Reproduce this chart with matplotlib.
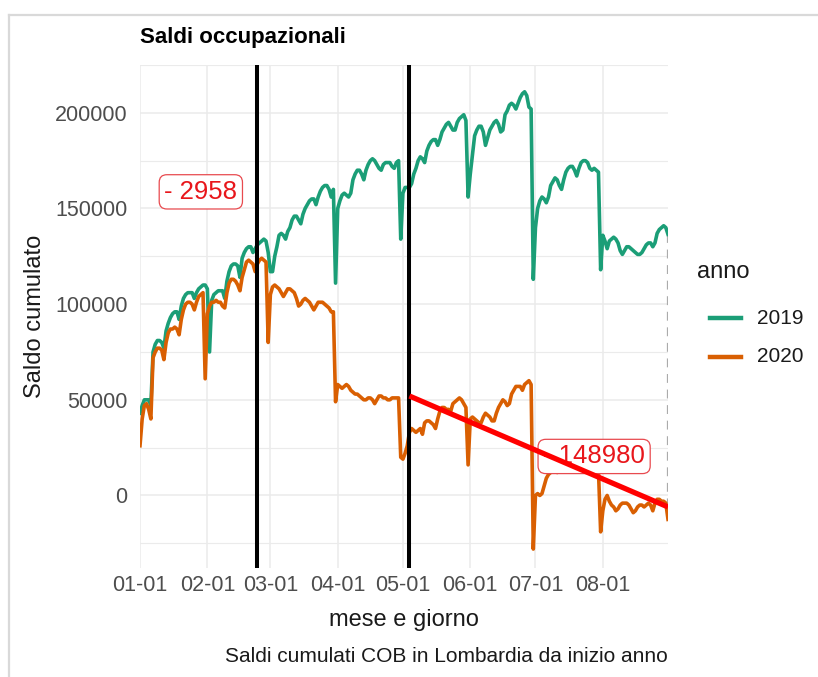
import numpy as np
import pandas as pd
import matplotlib
matplotlib.use("Agg")
import matplotlib.pyplot as plt
import matplotlib.dates as mdates
from matplotlib.lines import Line2D

plt.rcParams['font.family'] = ['Liberation Sans', 'DejaVu Sans']

# daily cumulative balance (thousands), Jan 1 -> Aug 31
saldo_2019 = [
    # jan
    43, 47, 50, 50, 50, 47, 75, 79, 81, 81, 80, 77, 86, 90, 93, 95, 96, 96, 92, 99,
    103, 105, 106, 106, 106, 103, 106, 108, 109, 110, 110,
    # feb
    108, 75, 102, 105, 106, 107, 107, 107, 103, 112, 117, 120, 121, 121, 120, 114, 124, 127, 129, 130,
    130, 127, 129, 131, 132, 133, 134, 133, 127,
    # mar
    117, 117, 125, 130, 136, 137, 136, 134, 138, 140, 144, 146, 146, 144, 142, 147, 150, 152, 154, 155,
    155, 152, 156, 159, 161, 162, 162, 160, 156, 160, 111,
    # apr
    150, 154, 157, 158, 157, 156, 158, 165, 168, 170, 170, 168, 165, 170, 173, 175, 176, 175, 173, 171,
    170, 173, 174, 174, 174, 172, 171, 174, 175, 134,
    # may
    158, 161, 161, 161, 163, 168, 171, 175, 177, 176, 174, 180, 183, 185, 186, 186, 183, 186, 190, 192,
    194, 195, 193, 191, 191, 195, 197, 198, 199, 196, 156,
    # jun
    168, 178, 188, 191, 193, 193, 190, 183, 187, 191, 193, 195, 196, 194, 190, 191, 199, 201, 204, 205,
    204, 202, 205, 208, 210, 211, 209, 203, 202, 113,
    # jul
    140, 150, 154, 156, 155, 153, 156, 162, 164, 166, 165, 162, 160, 165, 169, 171, 172, 172, 170, 167,
    171, 174, 175, 175, 174, 171, 170, 171, 170, 169, 118,
    # aug
    136, 133, 129, 133, 134, 135, 134, 132, 128, 126, 128, 130, 130, 129, 128, 127, 126, 126, 127, 129,
    131, 132, 132, 130, 132, 137, 139, 140, 141, 140, 136.5,
]

saldo_2020 = [
    # jan
    26, 40, 47, 48, 45, 40, 72, 75, 77, 77, 76, 71, 80, 85, 87, 87, 88, 87, 84, 92,
    97, 100, 101, 101, 100, 97, 101, 104, 105, 106, 61,
    # feb
    95, 99, 101, 101, 102, 101, 101, 99, 98, 106, 111, 113, 113, 112, 110, 107, 114, 118, 122, 123,
    122, 121, 117, 121, 123, 124, 123, 122, 80,
    # mar
    105, 109, 110, 109, 108, 106, 104, 106, 108, 108, 107, 106, 103, 99, 100, 102, 103, 102, 101, 99,
    97, 99, 101, 101, 101, 100, 99, 98, 96, 96, 49,
    # apr
    58, 57, 56, 57, 58, 57, 55, 54, 53, 53, 52, 51, 50, 50, 51, 51, 50, 48, 50, 52,
    52, 51, 51, 50, 50, 51, 51, 51, 51, 20,
    # may
    19, 22, 26, 33, 35, 34, 33, 34, 35, 32, 38, 39, 39, 38, 37, 35, 40, 44, 46, 46,
    45, 45, 44, 48, 49, 50, 51, 50, 48, 46, 16,
    # jun
    40, 41, 40, 39, 38, 38, 41, 43, 42, 41, 39, 39, 43, 46, 48, 50, 49, 47, 48, 53,
    55, 57, 57, 57, 55, 58, 59, 60, 58, -28,
    # jul
    0, 1, 0, 1, 5, 9, 11, 12, 13, 13, 12, 14, 16, 17, 18, 19, 20, 20, 18, 19,
    20, 21, 21, 20, 18, 17, 16, 15, 14, 13, -19,
    # aug
    -8, -2, 0, -3, -5, -6, -8, -7, -5, -4, -4, -4, -5, -7, -9, -8, -6, -5, -5, -6,
    -5, -4, -5, -8, -4, -2, -2, -3, -3, -4, -12.5,
]

giorni = pd.date_range("2020-01-01", "2020-08-31", freq="D")
eventi = ["2020-02-24", "2020-05-04"]
trend_x = ["2020-05-04", "2020-08-31"]
trend_y = [52000, -6000]
etichette = [("2020-01-29", 158700, "- 2958"), ("2020-07-28", 20400, "- 148980")]
anni = ["2019", "2020"]
colori = ["#1B9E77", "#D95F02"]

W, H = 818, 677
fx = lambda px: px / W
fy = lambda py: 1 - py / H

fig = plt.figure(figsize=(W / 100, H / 100), dpi=100)
ax = fig.add_axes([fx(140), fy(568), fx(668) - fx(140), fy(65) - fy(568)])

x = mdates.date2num(giorni)
g19 = np.array(saldo_2019) * 1000
g20 = np.array(saldo_2020) * 1000

ax.plot(x, g19, color=colori[0], lw=2.6, zorder=3, solid_joinstyle='round')
ax.plot(x, g20, color=colori[1], lw=2.6, zorder=3, solid_joinstyle='round')

# gap at the end
ax.plot([x[-1], x[-1]], [g19[-1], g20[-1]], color="#ABABAB", lw=1.6,
        ls=(0, (4, 3)), zorder=2)

for e in eventi:
    ax.axvline(mdates.datestr2num(e), color="black", lw=2.9, zorder=4)

for d, v, t in etichette:
    ax.text(mdates.datestr2num(d), v, t, ha="center", va="center", color="#E8161B",
            fontsize=18.5, zorder=5,
            bbox=dict(boxstyle="round,pad=0.2,rounding_size=0.3", fc="white",
                      ec="#E84A4F", lw=0.9))

ax.plot(mdates.datestr2num(trend_x), trend_y, color="red", lw=3.8, zorder=6,
        solid_capstyle="butt")

ax.set_xlim(x[0], x[-1])
ax.set_ylim(-37900, 223400)

mesi = pd.date_range("2020-01-01", "2020-08-01", freq="MS")
ax.set_xticks(mdates.date2num(mesi))
ax.set_xticklabels([m.strftime("%m-%d") for m in mesi])
ax.set_yticks([0, 50000, 100000, 150000, 200000])
ax.set_yticklabels(["0", "50000", "100000", "150000", "200000"])
ax.set_yticks(np.arange(-25000, 225001, 50000), minor=True)

ax.grid(which="major", color="#EBEBEB", lw=1.1)
ax.grid(which="minor", axis="y", color="#EBEBEB", lw=0.8)
ax.set_axisbelow(True)
for s in ax.spines.values():
    s.set_visible(False)
ax.tick_params(which="both", length=0, labelsize=15.5, colors="#4D4D4D")
ax.tick_params(axis="y", pad=9)
ax.tick_params(axis="x", pad=5)

fig.text(fx(140), fy(38), "Saldi occupazionali", fontsize=16, fontweight="bold",
         ha="left", va="center")
fig.text(fx(404), fy(620), "mese e giorno", fontsize=17, ha="center", va="center",
         color="#1A1A1A")
fig.text(fx(35), fy(316), "Saldo cumulato", fontsize=17, ha="center", va="center",
         rotation=90, color="#1A1A1A")
fig.text(fx(668), fy(657), "Saldi cumulati COB in Lombardia da inizio anno",
         fontsize=15, ha="right", va="center", color="#1A1A1A")

# legend
fig.text(fx(697), fy(272), "anno", fontsize=17, ha="left", va="center", color="#1A1A1A")
for i, (a, c) in enumerate(zip(anni, colori)):
    yy = fy(318 + 39 * i)
    fig.add_artist(Line2D([fx(710), fx(741)], [yy, yy], color=c, lw=3.2))
    fig.text(fx(757), yy, a, fontsize=15, ha="left", va="center", color="#1A1A1A")

# frame of the screenshot
fig.add_artist(Line2D([fx(9), 1], [fy(15), fy(15)], color="#D9D9D9", lw=1.6))
fig.add_artist(Line2D([fx(9), fx(9)], [fy(15), 0], color="#D9D9D9", lw=1.6))

fig.savefig("out.png", dpi=100)
